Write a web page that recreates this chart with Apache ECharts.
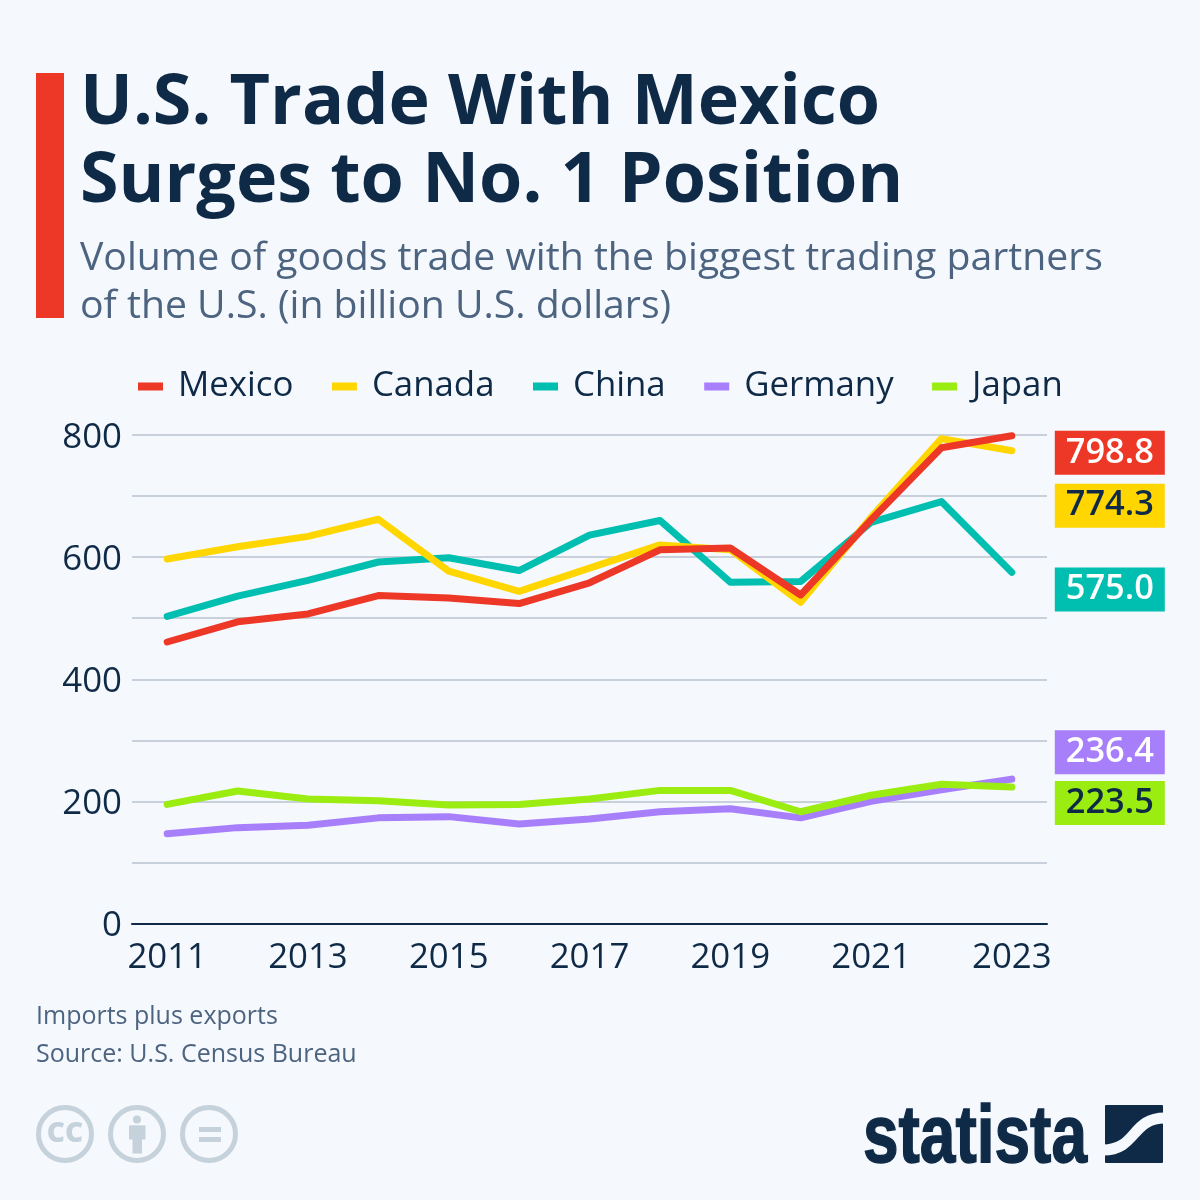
<!DOCTYPE html>
<html>
<head>
<meta charset="utf-8">
<style>
  html, body { margin: 0; padding: 0; background: #f5f8fc; }
  #main { width: 1200px; height: 1200px; }
</style>
<script src="https://cdn.jsdelivr.net/npm/echarts@6/dist/echarts.min.js"></script>
</head>
<body>
<div id="main"></div>
<script>
const years = ["2011", "2012", "2013", "2014", "2015", "2016", "2017", "2018", "2019", "2020", "2021", "2022", "2023"];
const yTickLabels = ["0", "", "200", "", "400", "", "600", "", "800"];

const mexico = [461, 494, 507, 537, 533, 524, 558, 612, 615, 538, 661, 779, 798.8];
const canada = [597, 617, 634, 662, 577, 544, 582, 620, 612, 526, 665, 794, 774.3];
const china = [503, 536, 562, 592, 599, 578, 636, 660, 559, 560, 657, 691, 575.0];
const germany = [147, 157, 161, 173, 175, 163, 171, 183, 188, 173, 200, 219, 236.4];
const japan = [195, 217, 204, 201, 194, 195, 204, 218, 218, 183, 210, 228, 223.5];

const navy = "#0f2a47";
const slate = "#4d6480";
const iconGrey = "#c5d2db";
const paper = "#f5f8fc";
const red = "#ed3727";
const font = "'Open Sans'";

function lineSeries(name, values, color, textColor, labelShift, z) {
  return {
    name: name,
    type: "line",
    data: values,
    z: z,
    symbol: "none",
    lineStyle: { color: color, width: 7, cap: "round", join: "round" },
    itemStyle: { color: color },
    emphasis: { disabled: true },
    endLabel: {
      show: true,
      distance: 0,
      offset: [98, labelShift],
      width: 110,
      height: 44,
      lineHeight: 46,
      align: "center",
      verticalAlign: "middle",
      backgroundColor: color,
      color: textColor,
      fontFamily: font,
      fontSize: 34.4,
      fontWeight: 600,
      formatter: (p) => p.value.toFixed(1),
    },
  };
}

const chart = echarts.init(document.getElementById("main"));

chart.setOption({
  animation: false,
  backgroundColor: paper,
  title: [
    {
      text: "U.S. Trade With Mexico\nSurges to No. 1 Position",
      left: 80,
      top: 65,
      padding: 0,
      textStyle: { color: navy, fontFamily: font, fontWeight: 700, fontSize: 70, lineHeight: 78 },
    },
    {
      text: "Volume of goods trade with the biggest trading partners\nof the U.S. (in billion U.S. dollars)",
      left: 80,
      top: 235,
      padding: 0,
      textStyle: { color: slate, fontFamily: font, fontWeight: 400, fontSize: 39.2, lineHeight: 48 },
    },
    {
      text: "Imports plus exports\nSource: U.S. Census Bureau",
      left: 36,
      top: 998,
      padding: 0,
      textStyle: { color: slate, fontFamily: font, fontWeight: 400, fontSize: 25, lineHeight: 38 },
    },
  ],
  legend: {
    left: 138,
    top: 369,
    padding: 0,
    itemWidth: 25,
    itemHeight: 8,
    itemGap: 38.5,
    icon: "rect",
    selectedMode: false,
    data: [
      "Mexico",
      "Canada",
      "China",
      { name: "Germany", textStyle: { padding: [0, 3, 0, 10] } },
      "Japan",
    ],
    textStyle: { color: navy, fontFamily: font, fontSize: 34.8, padding: [0, 0, 0, 10] },
  },
  grid: { left: 132, right: 153, top: 435, bottom: 276.5 },
  xAxis: {
    type: "category",
    data: years,
    boundaryGap: true,
    axisTick: { show: false },
    axisLine: { lineStyle: { color: navy, width: 2 } },
    axisLabel: { interval: 1, color: navy, fontFamily: font, fontSize: 34.8, margin: 17 },
  },
  yAxis: {
    type: "value",
    min: 0,
    max: 800,
    interval: 100,
    axisLine: { show: false },
    axisTick: { show: false },
    splitLine: { lineStyle: { color: "#b8c3d0", width: 1.5 } },
    axisLabel: {
      margin: 10,
      formatter: (v) => (yTickLabels[v / 100] ? `{tick|${yTickLabels[v / 100]}}` : ""),
      rich: {
        tick: { color: navy, fontFamily: font, fontSize: 34.8, padding: [6, 0, 0, 0] },
      },
    },
  },
  series: [
    lineSeries("Mexico", mexico, red, "#ffffff", 17, 6),
    lineSeries("Canada", canada, "#ffd600", navy, 55, 5),
    lineSeries("China", china, "#00bfb0", "#ffffff", 17, 4),
    lineSeries("Germany", germany, "#a87ffb", "#ffffff", -27, 2),
    lineSeries("Japan", japan, "#9bec10", navy, 16, 3),
  ],
  graphic: [
    { type: "rect", shape: { x: 36, y: 73, width: 28, height: 245 }, style: { fill: red } },
    // cc icons
    { type: "circle", shape: { cx: 65, cy: 1134, r: 26.5 }, style: { fill: "none", stroke: iconGrey, lineWidth: 5 } },
    { type: "text", style: { x: 65, y: 1134, text: "CC", fill: iconGrey, font: "800 28px 'Open Sans'", textAlign: "center", textVerticalAlign: "middle" } },
    { type: "circle", shape: { cx: 137, cy: 1134, r: 26.5 }, style: { fill: "none", stroke: iconGrey, lineWidth: 5 } },
    { type: "circle", shape: { cx: 137, cy: 1119.5, r: 4 }, style: { fill: iconGrey } },
    { type: "rect", shape: { x: 129, y: 1125.5, width: 16.5, height: 14 }, style: { fill: iconGrey } },
    { type: "rect", shape: { x: 132.5, y: 1125.5, width: 9.5, height: 28 }, style: { fill: iconGrey } },
    { type: "circle", shape: { cx: 209, cy: 1134, r: 26.5 }, style: { fill: "none", stroke: iconGrey, lineWidth: 5 } },
    { type: "rect", shape: { x: 199, y: 1127, width: 22, height: 5 }, style: { fill: iconGrey } },
    { type: "rect", shape: { x: 199, y: 1137, width: 22, height: 5 }, style: { fill: iconGrey } },
    // logo
    { type: "text", x: 863, y: 1180, scaleX: 0.78, style: { x: 0, y: 0, text: "statista", fill: navy, stroke: navy, lineWidth: 1.5, font: "700 82px 'Liberation Sans'", textAlign: "left", textVerticalAlign: "bottom" } },
    { type: "rect", shape: { x: 1105, y: 1105, width: 58, height: 58, r: 1 }, style: { fill: navy } },
    { type: "bezierCurve", shape: { x1: 1103, y1: 1150, cpx1: 1137, cpy1: 1150, cpx2: 1131, cpy2: 1118, x2: 1165, y2: 1118 }, style: { fill: "none", stroke: paper, lineWidth: 11 } },
  ],
});
</script>
</body>
</html>
